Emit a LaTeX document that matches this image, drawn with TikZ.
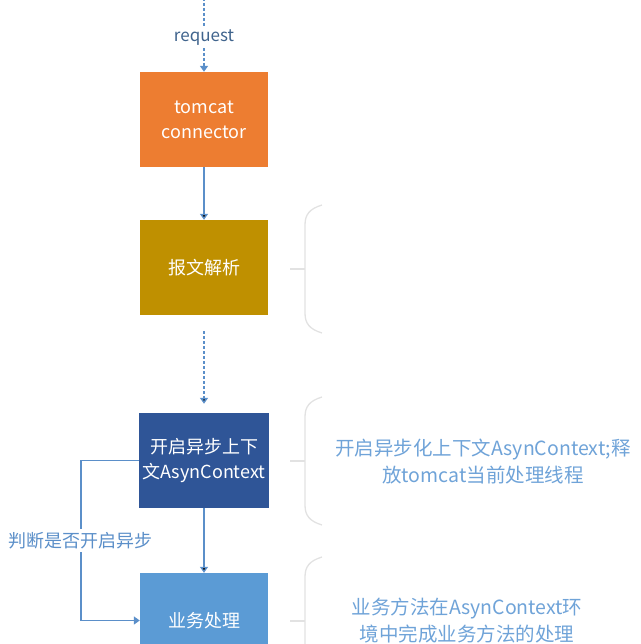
\documentclass[tikz,border=0pt]{standalone}
\usepackage{fontspec}
\newfontfamily\cjk{Noto Sans CJK SC}
\usepackage{tikz}
\usetikzlibrary{arrows.meta}
\definecolor{tomcat}{HTML}{ED7D31}
\definecolor{parse}{HTML}{BF9000}
\definecolor{async}{HTML}{2F5597}
\definecolor{biz}{HTML}{5B9BD5}
\definecolor{flowline}{HTML}{5B8FC9}
\definecolor{notetext}{HTML}{6FA3D8}
\definecolor{bracegray}{HTML}{E2E2E2}
\begin{document}
\begin{tikzpicture}[x=1pt, y=-1pt, node distance=148pt,
	main node/.style={rectangle,fill=#1,minimum width=128pt,minimum height=95pt,text=white,align=center,font=\cjk\fontsize{18pt}{25pt}\selectfont},
	flow/.style={draw=flowline,line width=1.4pt,-{Triangle[length=6pt,width=8pt]}},
	dashflow/.style={flow,line width=1.8pt,dash pattern=on 3pt off 2pt},
	note/.style={align=center,text=notetext,font=\cjk\fontsize{19.5pt}{27pt}\selectfont},
	brace/.style={draw=bracegray,line width=1.3pt}]
	
	\useasboundingbox (0,0) rectangle (640,644);
	\clip (0,0) rectangle (640,644);
	
	\coordinate (in) at (204,-2);
	\node[main node=tomcat] (1) at (204,119.5) {tomcat\\connector};
	\node[main node=parse] (2) [below of=1] {报文解析};
	\node[main node=async] (3) [below of=2, node distance=193pt] {开启异步上下\\文AsynContext};
	\node[main node=biz] (4) [below of=3, node distance=160pt] {业务处理};
	
	% notes next to the steps
	\node[note] (n3) at (483,461.5) {开启异步化上下文AsynContext;释\\放tomcat当前处理线程};
	\node[note] (n4) at (467,621) {业务方法在AsynContext环\\境中完成业务方法的处理};
	
	\foreach \m in {269,461,621} {
		\draw[brace] (322,\m-64) .. controls (309,\m-60) and (305,\m-54) .. (305,\m-44)
			-- (305,\m+44) .. controls (305,\m+54) and (309,\m+60) .. (322,\m+64);
		\draw[brace] (290,\m) -- (305,\m);
	}
	
	\draw[dashflow] (in) -- node[pos=0.53,fill=white,text=flowline!70!black,font=\cjk\fontsize{17pt}{20pt}\selectfont] {request} (1);
	\path[flow] (1) edge (2)
	(3) edge (4);
	\path[dashflow,shorten <=16pt,shorten >=9pt] (2) edge (3);
	\draw[flow] (3.west) -- ++(-58,0) |- node[pos=0.25,fill=white,text=flowline,font=\cjk\fontsize{18pt}{20pt}\selectfont] {判断是否开启异步} (4.west);
\end{tikzpicture}
\end{document}
